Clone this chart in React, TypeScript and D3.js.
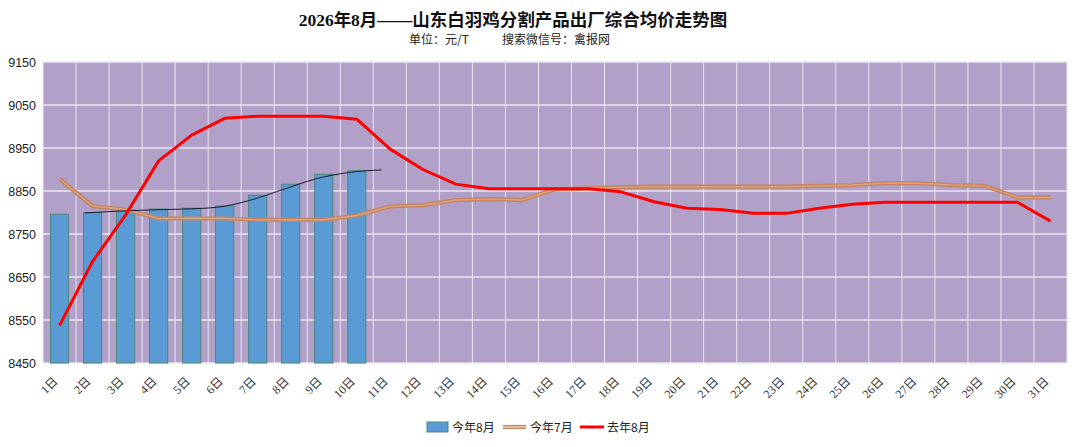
import React from "react";
import * as d3 from "d3";

const days = ["1日","2日","3日","4日","5日","6日","7日","8日","9日","10日","11日","12日","13日","14日","15日","16日","17日","18日","19日","20日","21日","22日","23日","24日","25日","26日","27日","28日","29日","30日","31日"];
const yTicks = [8450, 8550, 8650, 8750, 8850, 8950, 9050, 9150];

// 今年8月 (bars)
const thisAug = [8796, 8800, 8806, 8808, 8810, 8815, 8840, 8866, 8889, 8897];
// trend line drawn over the bars, from 2日 to 11日
const trendDays = ["2日","3日","4日","5日","6日","7日","8日","9日","10日","11日"];
const trendVals = [8799, 8803, 8806, 8808, 8812, 8828, 8853, 8878, 8893, 8899];
// 今年7月
const thisJuly = [8878, 8815, 8807, 8786, 8786, 8786, 8783, 8783, 8783, 8793, 8814, 8817, 8829, 8831, 8829, 8854, 8856, 8859, 8860, 8860, 8860, 8860, 8860, 8862, 8864, 8868, 8868, 8864, 8862, 8835, 8835];
// 去年8月
const lastAug = [8537, 8686, 8794, 8920, 8980, 9019, 9024, 9024, 9024, 9017, 8948, 8900, 8866, 8855, 8855, 8855, 8855, 8848, 8825, 8810, 8807, 8798, 8798, 8810, 8819, 8824, 8824, 8824, 8824, 8824, 8780];

const title = "2026年8月——山东白羽鸡分割产品出厂综合均价走势图";
const unitText = "单位：元/T";
const sourceText = "搜索微信号：禽报网";
const legendNames = ["今年8月", "今年7月", "去年8月"];

export default function App() {
  const W = 1080, H = 447;
  const left = 43, right = 1067, top = 62, bottom = 363;
  const x = d3.scaleBand<string>().domain(days).range([left, right]).paddingInner(0.45).paddingOuter(0.225);
  const step = x.step();
  const y = d3.scaleLinear().domain([8450, 9150]).range([bottom, top]);
  const cx = (d: string) => (x(d) as number) + x.bandwidth() / 2;

  const line = d3.line<[number, number]>().x(p => p[0]).y(p => p[1]);
  const julyPath = line(thisJuly.map((v, i) => [cx(days[i]), y(v)]))!;
  const lastPath = line(lastAug.map((v, i) => [cx(days[i]), y(v)]))!;
  const trendOffset = -step * 0.25;
  const trendPath = d3.line<[number, number]>().x(p => p[0]).y(p => p[1]).curve(d3.curveMonotoneX)(
    trendVals.map((v, i) => [cx(trendDays[i]) + trendOffset, y(v)])
  )!;

  const gridColor = "#ebe5f1";
  const cjk = "'Noto Sans CJK SC', sans-serif";
  const serifCjk = "'Liberation Serif', 'Noto Sans CJK SC', serif";

  return (
    <svg width={W} height={H} style={{ position: "fixed", left: 0, top: 0, background: "#fff" }}>
      <text x={513} y={26} textAnchor="middle" fontFamily={serifCjk} fontWeight="bold" fontSize={17.5} fill="#111">{title}</text>
      <text x={409} y={44} fontFamily={cjk} fontSize={12} fill="#222">{unitText}</text>
      <text x={502} y={44} fontFamily={cjk} fontSize={12} fill="#222">{sourceText}</text>

      <rect x={left} y={top} width={right - left} height={bottom - top} fill="#b1a0c8" />
      {yTicks.map(t => (
        <line key={"h" + t} x1={left} x2={right} y1={y(t)} y2={y(t)} stroke={gridColor} strokeWidth={1.4} />
      ))}
      {d3.range(days.length + 1).map(i => (
        <line key={"v" + i} x1={left + i * step} x2={left + i * step} y1={top} y2={bottom} stroke={gridColor} strokeWidth={1} />
      ))}

      {thisAug.map((v, i) => (
        <rect key={"b" + i} x={x(days[i])} y={y(v)} width={x.bandwidth()} height={y(8450) - y(v)}
          fill="#5b9bd5" stroke="#4d8777" strokeWidth={1} />
      ))}

      <path d={julyPath} fill="none" stroke="#c4855f" strokeWidth={4.2} strokeLinejoin="round" />
      <path d={julyPath} fill="none" stroke="#dba27e" strokeWidth={1.4} strokeLinejoin="round" />
      <path d={trendPath} fill="none" stroke="#1c1c30" strokeWidth={1} />
      <path d={lastPath} fill="none" stroke="#ff0000" strokeWidth={3} strokeLinejoin="round" />

      {yTicks.map(t => (
        <text key={"yl" + t} x={36} y={y(t) + 4.5} textAnchor="end" fontFamily="'Liberation Sans', Arial, sans-serif" fontSize={12.5} fill="#222">{t}</text>
      ))}
      {days.map(d => (
        <text key={"xl" + d} transform={`translate(${cx(d) - 1},${bottom + 19}) rotate(-45)`} textAnchor="end"
          fontFamily={serifCjk} fontSize={12} fill="#333">{d}</text>
      ))}

      <g fontFamily={cjk} fontSize={12} fill="#222">
        <rect x={427} y={422} width={21} height={10} fill="#5b9bd5" stroke="#4d8777" strokeWidth={1} />
        <text x={452} y={432}>{legendNames[0]}</text>
        <line x1={503} x2={526} y1={427} y2={427} stroke="#c4855f" strokeWidth={4.2} />
        <line x1={503} x2={526} y1={427} y2={427} stroke="#f3d6bf" strokeWidth={1.4} />
        <text x={530} y={432}>{legendNames[1]}</text>
        <line x1={580} x2={604} y1={427} y2={427} stroke="#ff0000" strokeWidth={3} />
        <text x={607} y={432}>{legendNames[2]}</text>
      </g>
    </svg>
  );
}
